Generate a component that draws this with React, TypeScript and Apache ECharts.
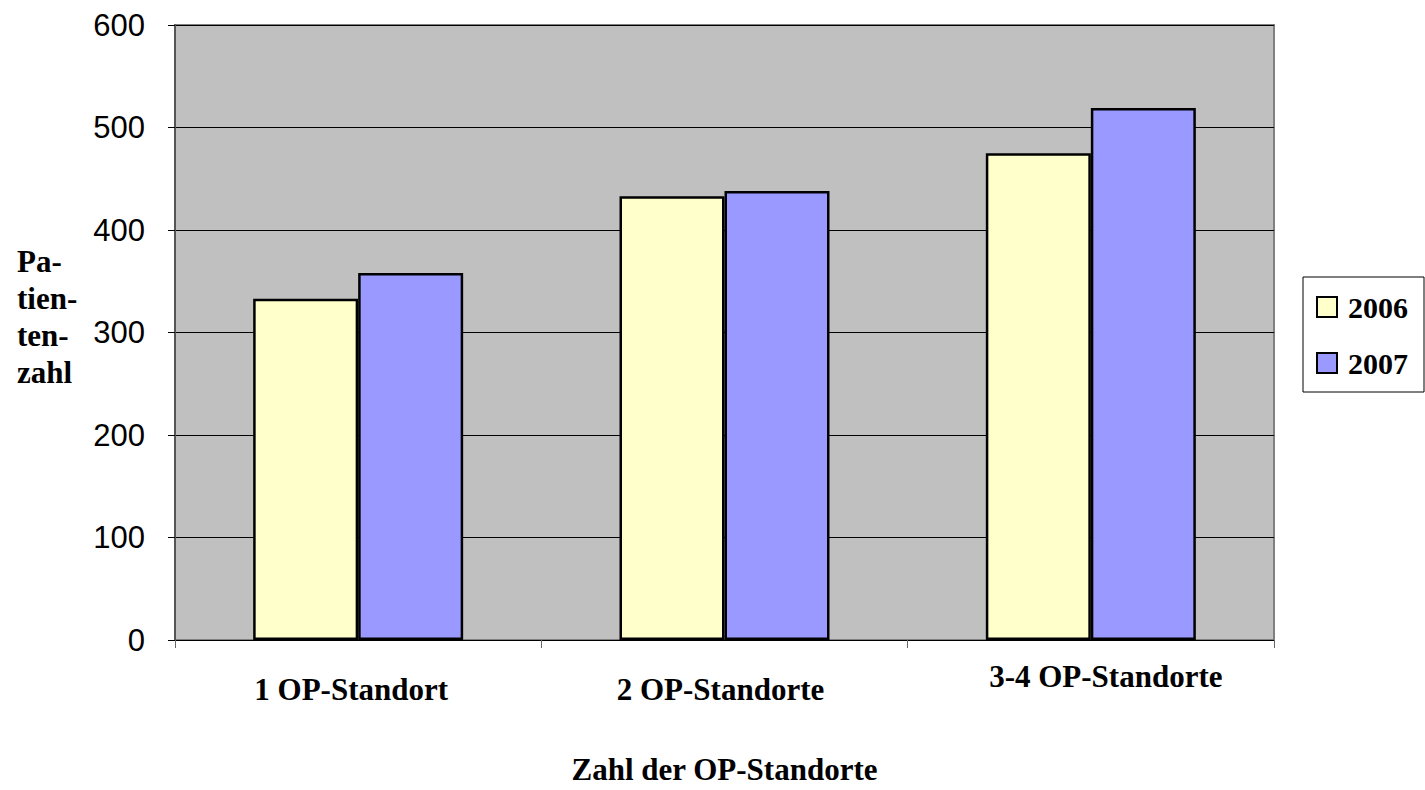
import React, { useEffect, useRef } from "react";
import * as echarts from "echarts";

// Patient counts by number of surgical sites, 2006 vs 2007
const categories = ["1 OP-Standort", "2 OP-Standorte", "3-4 OP-Standorte"];
const years = ["2006", "2007"];
const values2006 = [333, 433, 475];
const values2007 = [358, 438, 519];
const yTicks = { min: 0, max: 600, interval: 100 };

const SERIF = "'Liberation Serif', 'Times New Roman', serif";
const SANS = "'Liberation Sans', Arial, sans-serif";

// per-label offsets of the category captions
const labelPadding = [
  [13, 14, 0, 0],
  [13, 8, 0, 0],
  [0, 0, 0, 30],
];

export default function App() {
  const ref = useRef<HTMLDivElement>(null);

  useEffect(() => {
    if (!ref.current) return;
    const chart = echarts.init(ref.current, null, { renderer: "svg" });
    chart.setOption({
      animation: false,
      backgroundColor: "#ffffff",
      grid: {
        left: 175,
        top: 25,
        width: 1099,
        height: 618,
        show: true,
        backgroundColor: "#c0c0c0",
        borderColor: "#808080",
        borderWidth: 2,
      },
      legend: {
        orient: "vertical",
        left: 1303,
        top: 277,
        padding: [15, 16, 14, 13],
        itemGap: 26,
        itemWidth: 20,
        itemHeight: 20,
        icon: "rect",
        borderColor: "#000",
        borderWidth: 1,
        backgroundColor: "#ffffff",
        itemStyle: { borderColor: "#000", borderWidth: 2 },
        textStyle: {
          fontFamily: SERIF,
          fontWeight: "bold",
          fontSize: 30,
          color: "#000",
          padding: [0, 0, 0, 6],
        },
        data: years,
      },
      xAxis: {
        type: "category",
        data: categories.map((c, i) => ({
          value: c,
          textStyle: { padding: labelPadding[i] },
        })),
        axisLine: { show: true, lineStyle: { color: "#000", width: 1 } },
        axisTick: {
          show: true,
          alignWithLabel: false,
          length: 8,
          lineStyle: { color: "#666", width: 1 },
        },
        axisLabel: {
          margin: 21,
          interval: 0,
          fontFamily: SERIF,
          fontWeight: "bold",
          fontSize: 31,
          color: "#000",
        },
        name: "Zahl der OP-Standorte",
        nameLocation: "middle",
        nameGap: 114,
        nameTextStyle: {
          fontFamily: SERIF,
          fontWeight: "bold",
          fontSize: 31,
          color: "#000",
        },
      },
      yAxis: {
        type: "value",
        min: yTicks.min,
        max: yTicks.max,
        interval: yTicks.interval,
        axisLine: { show: true, lineStyle: { color: "#555", width: 2 } },
        axisTick: { show: true, length: 7, lineStyle: { color: "#000", width: 1 } },
        axisLabel: {
          margin: 30,
          fontFamily: SANS,
          fontSize: 31,
          color: "#000",
        },
        splitLine: { show: true, lineStyle: { color: "#000", width: 1 } },
      },
      graphic: [
        {
          type: "text",
          left: 17,
          top: 243,
          style: {
            text: "Pa-\ntien-\nten-\nzahl",
            font: `bold 31px ${SERIF}`,
            fill: "#000",
            lineHeight: 37,
          },
        },
      ],
      series: [
        {
          name: years[0],
          type: "bar",
          data: values2006,
          barWidth: 105,
          barGap: "0%",
          itemStyle: { color: "#ffffcc", borderColor: "#000", borderWidth: 2.5 },
        },
        {
          name: years[1],
          type: "bar",
          data: values2007,
          barWidth: 105,
          barGap: "0%",
          itemStyle: { color: "#9999ff", borderColor: "#000", borderWidth: 2.5 },
        },
      ],
    });
    return () => chart.dispose();
  }, []);

  return (
    <div
      ref={ref}
      style={{ position: "fixed", left: 0, top: 0, width: 1425, height: 790 }}
    />
  );
}
